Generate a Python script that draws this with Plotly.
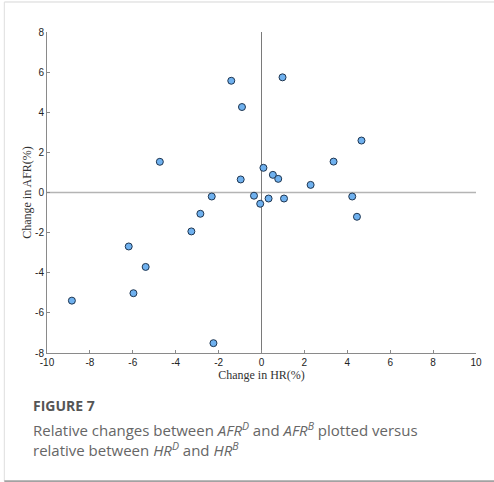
import plotly.graph_objects as go

# Relative change in HR (%) vs relative change in AFR (%)
hr_change = [-1.41, 0.98, -0.91, 4.66, -4.74, 3.36, 0.09, 0.53, 0.78, -0.97, 2.29,
             -2.32, -0.35, -0.06, 0.33, 1.05, 4.23, 4.45, -2.85, -3.27, -6.19,
             -5.40, -5.97, -8.84, -2.24]
afr_change = [5.57, 5.74, 4.26, 2.59, 1.53, 1.54, 1.23, 0.88, 0.68, 0.65, 0.38,
              -0.20, -0.16, -0.56, -0.30, -0.30, -0.20, -1.21, -1.06, -1.94, -2.69,
              -3.71, -5.02, -5.39, -7.51]

x_ticks = [-10, -8, -6, -4, -2, 0, 2, 4, 6, 8, 10]
y_ticks = [-8, -6, -4, -2, 0, 2, 4, 6, 8]

fig = go.Figure()

# zero reference lines
fig.add_trace(go.Scatter(x=[-10, 10], y=[0, 0], mode="lines",
                         line=dict(color="#b4b4b4", width=1.6),
                         hoverinfo="skip", showlegend=False))
fig.add_trace(go.Scatter(x=[0, 0], y=[-8, 8], mode="lines",
                         line=dict(color="#7a7a7a", width=1),
                         hoverinfo="skip", showlegend=False))

fig.add_trace(go.Scatter(
    x=hr_change, y=afr_change, mode="markers",
    marker=dict(size=7, color="#6fb1ef", line=dict(color="#1e3550", width=1)),
    showlegend=False,
))

axis_common = dict(
    showgrid=False, zeroline=False, showline=True, linecolor="#8a8a8a",
    linewidth=1, ticks="inside", ticklen=3, tickcolor="#8a8a8a",
    tickfont=dict(family="Liberation Sans", size=10, color="#222222"),
)

fig.update_xaxes(
    range=[-10, 10], tickvals=x_ticks, ticktext=[str(v) for v in x_ticks],
    title=dict(text="Change in HR(%)", standoff=2,
               font=dict(family="Liberation Serif", size=12, color="#333333")),
    **axis_common,
)
fig.update_yaxes(
    range=[-8, 8], tickvals=y_ticks, ticktext=[str(v) for v in y_ticks],
    title=dict(text="Change in AFR(%)", standoff=0,
               font=dict(family="Liberation Serif", size=12, color="#333333")),
    **axis_common,
)

# outer frame
fig.add_shape(type="line", xref="paper", yref="paper", x0=-0.0995, x1=1.05,
              y0=1.0935, y1=1.0935, line=dict(color="#d6d6d6", width=1))
fig.add_shape(type="line", xref="paper", yref="paper", x0=-0.0995, x1=-0.0995,
              y0=-0.399, y1=1.0935, line=dict(color="#dedede", width=1))
fig.add_shape(type="line", xref="paper", yref="paper", x0=-0.0995, x1=1.05,
              y0=-0.399, y1=-0.399, line=dict(color="#a2a2a2", width=1.8))

fig.add_annotation(
    text="<b>FIGURE 7</b>", xref="paper", yref="paper",
    x=-0.037, y=-0.162, xanchor="left", yanchor="middle", showarrow=False,
    font=dict(family="Open Sans", size=14, color="#555555"),
)
caption_lines = [
    "Relative changes between <i>AFR</i><sup><i>D</i></sup> and "
    "<i>AFR</i><sup><i>B</i></sup> plotted versus",
    "relative between <i>HR</i><sup><i>D</i></sup> and <i>HR</i><sup><i>B</i></sup>",
]
for line, ypos in zip(caption_lines, [-0.237, -0.302]):
    fig.add_annotation(
        text=line, xref="paper", yref="paper", x=-0.037, y=ypos,
        xanchor="left", yanchor="middle", align="left", showarrow=False,
        font=dict(family="Open Sans", size=15, color="#666666"),
    )

fig.update_layout(
    width=494, height=482,
    margin=dict(l=47, r=15, t=32, b=129),
    paper_bgcolor="white", plot_bgcolor="white",
)

fig.write_html("out.html")
